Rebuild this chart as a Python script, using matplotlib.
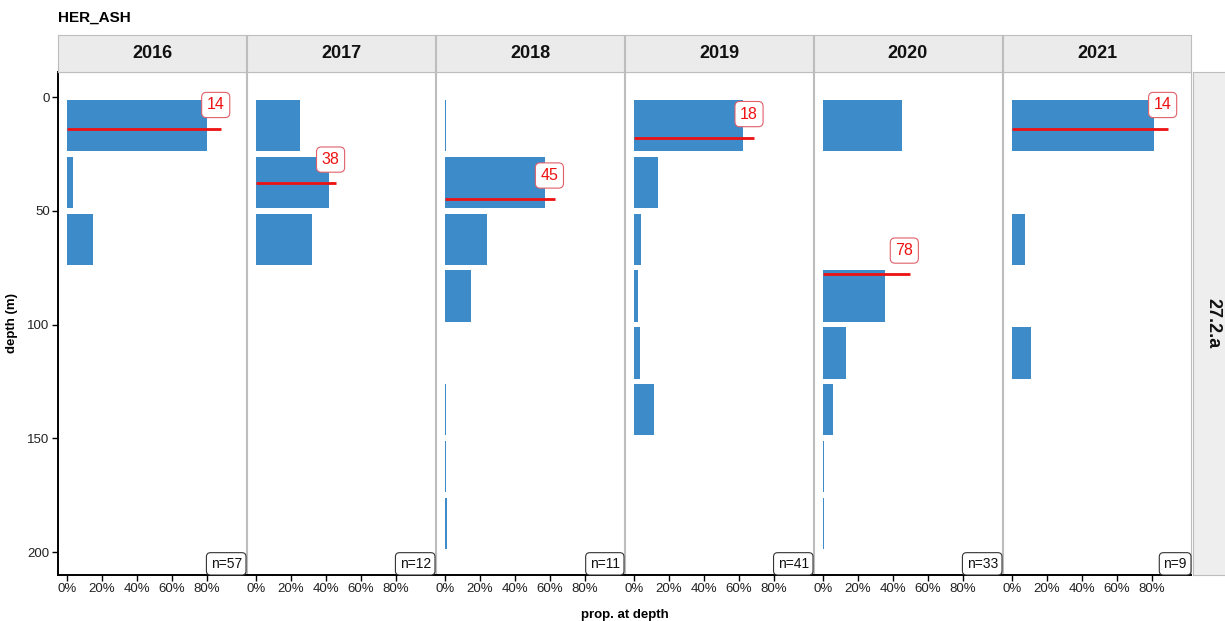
import numpy as np
import matplotlib
matplotlib.use("Agg")
import matplotlib.pyplot as plt
from matplotlib.ticker import FuncFormatter

plt.rcParams['font.family'] = ['Liberation Sans', 'DejaVu Sans']

# data
years = ["2016", "2017", "2018", "2019", "2020", "2021"]
depth_bins = [12.5, 37.5, 62.5, 87.5, 112.5, 137.5, 162.5, 187.5]
prop_2016 = [0.80, 0.036, 0.15, 0, 0, 0, 0, 0]
prop_2017 = [0.253, 0.415, 0.318, 0, 0, 0, 0, 0]
prop_2018 = [0.006, 0.57, 0.24, 0.149, 0, 0.007, 0.006, 0.012]
prop_2019 = [0.625, 0.137, 0.038, 0.023, 0.032, 0.114, 0, 0]
prop_2020 = [0.45, 0, 0, 0.354, 0.13, 0.057, 0.007, 0.006]
prop_2021 = [0.81, 0, 0.076, 0, 0.109, 0, 0, 0]
props = [prop_2016, prop_2017, prop_2018, prop_2019, prop_2020, prop_2021]
mean_depth = [14, 38, 45, 18, 78, 14]
n_obs = [57, 12, 11, 41, 33, 9]
area = "27.2.a"
species = "HER_ASH"

W, H = 1225, 621
fig = plt.figure(figsize=(W / 100, H / 100), dpi=100)

bar_col = "#3D8CC9"
red = "#EE1111"
grid_col = "#BDBDBD"

panel_top, panel_bot = 72, 575
strip_top = 35
left0, pw, pitch = 58, 188, 189

pct = FuncFormatter(lambda v, p: f"{v * 100:.0f}%")

for i, yr in enumerate(years):
    x0 = left0 + i * pitch
    ax = fig.add_axes([x0 / W, 1 - panel_bot / H, pw / W, (panel_bot - panel_top) / H])
    vals = props[i]
    for d, v in zip(depth_bins, vals):
        if v > 0:
            ax.barh(d, v, height=22.5, color=bar_col, linewidth=0)
    mx = max(vals) * 1.1
    md = mean_depth[i]
    ax.plot([0, mx], [md, md], color=red, lw=2, solid_capstyle="butt")
    ax.text(mx - 0.03, md - 10.5, str(md), color=red, fontsize=11.5, ha="center", va="center",
            bbox=dict(boxstyle="round,pad=0.32,rounding_size=0.3", fc="white", ec="#E0606A", lw=0.8))
    ax.annotate(f"n={n_obs[i]}", xy=(1, 0), xycoords="axes fraction", xytext=(-3, 3),
                textcoords="offset points", ha="right", va="bottom", fontsize=10, color="#111111",
                bbox=dict(boxstyle="round,pad=0.3,rounding_size=0.3", fc="white", ec="#333333", lw=0.8))

    ax.set_xlim(-0.051, 1.023)
    ax.set_ylim(210.1, -11)
    ax.set_xticks([0, 0.2, 0.4, 0.6, 0.8])
    ax.xaxis.set_major_formatter(pct)
    ax.tick_params(axis="x", length=4, width=1, color="black", labelsize=9.5, labelcolor="#222222", pad=2)
    if i == 0:
        ax.set_yticks([0, 50, 100, 150, 200])
        ax.tick_params(axis="y", length=4, width=1, color="black", labelsize=9.5, labelcolor="#222222", pad=2)
    else:
        ax.set_yticks([])
    for s in ["top", "right", "left"]:
        ax.spines[s].set_color(grid_col)
        ax.spines[s].set_linewidth(0.8)
    ax.spines["bottom"].set_color("black")
    ax.spines["bottom"].set_linewidth(1.4)
    if i == 0:
        ax.spines["left"].set_color("black")
        ax.spines["left"].set_linewidth(1.4)

    # strip on top
    sx = fig.add_axes([x0 / W, 1 - panel_top / H, pw / W, (panel_top - strip_top) / H])
    sx.set_facecolor("#EBEBEB")
    sx.set_xticks([])
    sx.set_yticks([])
    for s in sx.spines.values():
        s.set_color(grid_col)
        s.set_linewidth(0.8)
    sx.text(0.5, 0.5, yr, ha="center", va="center", fontsize=13, fontweight="bold",
            color="#111111", transform=sx.transAxes)

# strip on the right
rx = fig.add_axes([1193 / W, 1 - panel_bot / H, 40 / W, (panel_bot - panel_top) / H])
rx.set_facecolor("#EEEEEE")
rx.set_xticks([])
rx.set_yticks([])
for s in rx.spines.values():
    s.set_color(grid_col)
    s.set_linewidth(0.8)
rx.text(20 / 40, 0.5, area, rotation=-90, ha="center", va="center", fontsize=13,
        fontweight="bold", color="#111111", transform=rx.transAxes)

fig.text(58 / W, 1 - 18 / H, species, ha="left", va="center", fontsize=11, fontweight="bold")
fig.text(12 / W, 1 - 323 / H, "depth (m)", rotation=90, ha="center", va="center",
         fontsize=9.5, fontweight="bold")
fig.text(625 / W, 1 - 609 / H, "prop. at depth", ha="center", va="top", fontsize=9.5,
         fontweight="bold")

fig.savefig("out.png", dpi=100, facecolor="white")
